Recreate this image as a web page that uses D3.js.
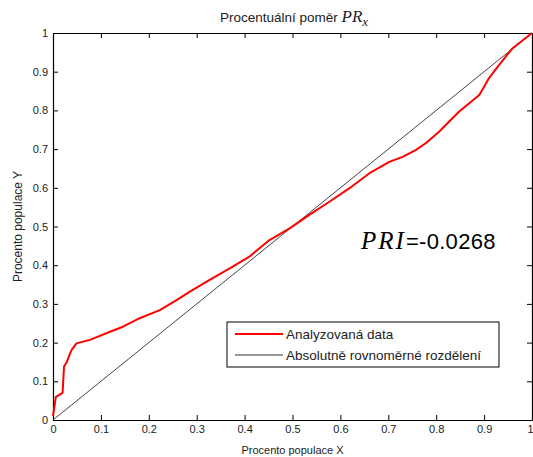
<!DOCTYPE html>
<html lang="cs">
<head>
<meta charset="UTF-8">
<title>Procentuální poměr PRx</title>
<script src="https://d3js.org/d3.v7.min.js"></script>
<style>
    body { margin: 0; padding: 0; background: #fff; }
    svg { display: block; font-family: "Liberation Sans", Arial, sans-serif; }
    .tick text { font-size: 11px; fill: #222; }
    .tick line, .domain { stroke: #000; }
</style>
</head>
<body>
<svg width="533" height="457"></svg>
<script>
// Lorenz-like curve of analysed data (fraction X, fraction Y)
const curveX = [0, 0.006, 0.02, 0.023, 0.029, 0.035, 0.039, 0.049, 0.077, 0.119, 0.146, 0.181,
    0.223, 0.258, 0.285, 0.327, 0.369, 0.41, 0.431, 0.452, 0.494, 0.535, 0.577, 0.619, 0.66,
    0.702, 0.73, 0.758, 0.778, 0.806, 0.848, 0.89, 0.91, 0.931, 0.959, 1];
const curveY = [0.01, 0.06, 0.07, 0.138, 0.15, 0.17, 0.181, 0.198, 0.207, 0.228, 0.241, 0.263,
    0.284, 0.31, 0.331, 0.362, 0.392, 0.422, 0.444, 0.465, 0.495, 0.53, 0.564, 0.599, 0.637,
    0.667, 0.68, 0.698, 0.715, 0.745, 0.797, 0.84, 0.883, 0.917, 0.96, 1];
const equalityLine = [[0, 0], [1, 1]];
const tickValues = [0, 0.1, 0.2, 0.3, 0.4, 0.5, 0.6, 0.7, 0.8, 0.9, 1];
const tickLabels = ["0", "0.1", "0.2", "0.3", "0.4", "0.5", "0.6", "0.7", "0.8", "0.9", "1"];
const legendItems = [
    { label: "Analyzovaná data", color: "#ff0000", width: 2 },
    { label: "Absolutně rovnoměrné rozdělení", color: "#333", width: 1 }
];
const priValue = "=-0.0268";

const svg = d3.select("svg");
const plot = { left: 53, right: 532, top: 33, bottom: 420 };

const x = d3.scaleLinear().domain([0, 1]).range([plot.left, plot.right]);
const y = d3.scaleLinear().domain([0, 1]).range([plot.bottom, plot.top]);
const fmt = (d, i) => tickLabels[i];

// box axes with inward ticks
const xAxis = svg.append("g")
    .attr("transform", "translate(0," + plot.bottom + ")")
    .call(d3.axisBottom(x).tickValues(tickValues).tickFormat(fmt).tickSizeInner(-5).tickSizeOuter(0).tickPadding(5));
// last label sits at the right edge, keep it inside the picture
xAxis.selectAll(".tick text").filter(d => d === 1).attr("text-anchor", "end").attr("dx", 1);

svg.append("g")
    .attr("transform", "translate(" + plot.left + ",0)")
    .call(d3.axisLeft(y).tickValues(tickValues).tickFormat(fmt).tickSizeInner(-5).tickSizeOuter(0).tickPadding(5));
svg.append("g")
    .attr("transform", "translate(0," + plot.top + ")")
    .call(d3.axisTop(x).tickValues(tickValues).tickFormat("").tickSizeInner(-5).tickSizeOuter(0));
svg.append("g")
    .attr("transform", "translate(" + plot.right + ",0)")
    .call(d3.axisRight(y).tickValues(tickValues).tickFormat("").tickSizeInner(-5).tickSizeOuter(0));

svg.selectAll(".domain").attr("stroke-width", 1.2);

const line = d3.line().x(d => x(d[0])).y(d => y(d[1]));

svg.append("path")
    .datum(equalityLine)
    .attr("d", line)
    .attr("fill", "none")
    .attr("stroke", "#444")
    .attr("stroke-width", 1);

svg.append("path")
    .datum(curveX.map((v, i) => [v, curveY[i]]))
    .attr("d", line)
    .attr("fill", "none")
    .attr("stroke", "#ff0000")
    .attr("stroke-width", 2)
    .attr("stroke-linejoin", "round");

// title
const title = svg.append("text")
    .attr("x", 220)
    .attr("y", 22)
    .attr("font-size", 13.5)
    .attr("fill", "#222");
title.append("tspan").text("Procentuální poměr ");
title.append("tspan")
    .attr("font-family", "'Liberation Serif', serif")
    .attr("font-style", "italic")
    .attr("font-size", 17)
    .attr("fill", "#222")
    .text("PR");
title.append("tspan")
    .attr("font-family", "'Liberation Serif', serif")
    .attr("font-style", "italic")
    .attr("font-size", 13)
    .attr("dy", 4)
    .text("x");

// axis labels
svg.append("text")
    .attr("x", (plot.left + plot.right) / 2)
    .attr("y", 454)
    .attr("text-anchor", "middle")
    .attr("font-size", 11)
    .attr("fill", "#222")
    .text("Procento populace X");

svg.append("text")
    .attr("transform", "translate(22," + (plot.top + plot.bottom) / 2 + ") rotate(-90)")
    .attr("text-anchor", "middle")
    .attr("font-size", 12)
    .attr("fill", "#222")
    .text("Procento populace Y");

// PRI annotation
const pri = svg.append("text")
    .attr("x", 361)
    .attr("y", 249)
    .attr("fill", "#000");
pri.append("tspan")
    .attr("font-family", "'Liberation Serif', serif")
    .attr("font-style", "italic")
    .attr("font-size", 25)
    .attr("letter-spacing", 2)
    .text("PRI");
pri.append("tspan")
    .attr("font-size", 22)
    .attr("letter-spacing", 0.3)
    .text(priValue);

// legend
const legend = svg.append("g").attr("transform", "translate(227,322)");
legend.append("rect")
    .attr("width", 272)
    .attr("height", 45)
    .attr("fill", "#fff")
    .attr("stroke", "#000")
    .attr("stroke-width", 1);

const rows = legend.selectAll(".legend-row")
    .data(legendItems)
    .enter()
    .append("g")
    .attr("transform", (d, i) => "translate(0," + (12 + i * 21) + ")");
rows.append("line")
    .attr("x1", 8).attr("x2", 56)
    .attr("stroke", d => d.color)
    .attr("stroke-width", d => d.width);
rows.append("text")
    .attr("x", 59)
    .attr("y", 5)
    .attr("font-size", 13.5)
    .attr("fill", "#222")
    .text(d => d.label);
</script>
</body>
</html>
